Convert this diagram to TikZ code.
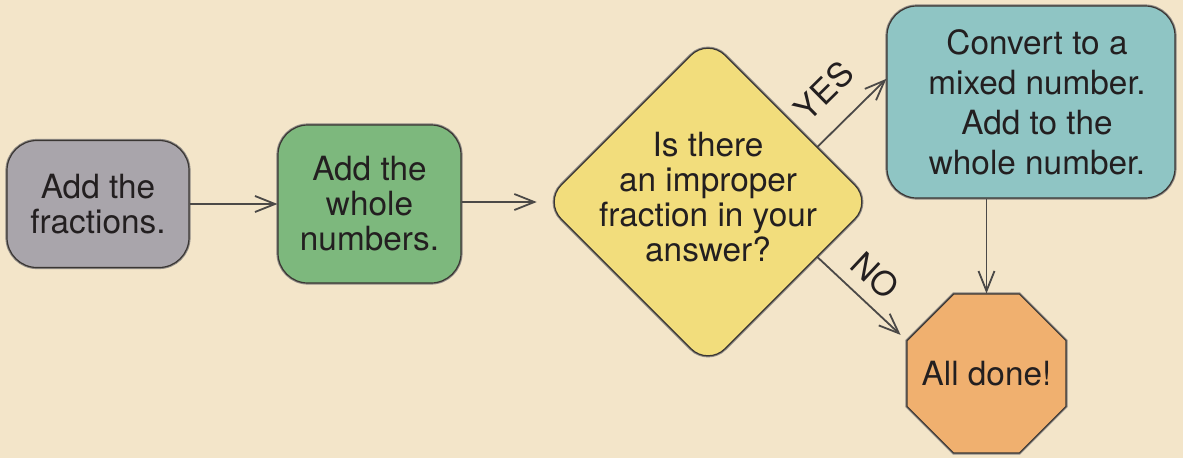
\documentclass[tikz,border=0pt]{standalone}
\usepackage{fontspec}
\setmainfont{TeX Gyre Heros}
\usetikzlibrary{shapes.geometric,arrows.meta,calc}
\definecolor{bg}{HTML}{F3E5C9}
\definecolor{greyfill}{HTML}{A9A5AB}
\definecolor{greenfill}{HTML}{7DB87D}
\definecolor{yellowfill}{HTML}{F2DD7C}
\definecolor{tealfill}{HTML}{8FC5C4}
\definecolor{orangefill}{HTML}{F0B06F}
\definecolor{edge}{HTML}{3A3633}
\definecolor{edgelight}{HTML}{8E8A85}
\definecolor{txt}{HTML}{231F20}
\definecolor{arrowc}{HTML}{4B4947}
\tikzset{
  outline/.style={draw=edge, line width=0.9pt, preaction={draw=edgelight, line width=2.4pt}},
  txtfont/.style={text=txt, font=\fontsize{25}{26.25}\selectfont},
  box/.style={outline, txtfont, rounded corners=22.5pt, align=center, inner sep=0pt},
  dia/.style={outline, shape=diamond, aspect=1, minimum width=246pt, minimum height=246pt, rounded corners=18pt, inner sep=0pt, fill=yellowfill},
  oct/.style={outline, shape=regular polygon, regular polygon sides=8, minimum size=129pt, inner sep=0pt, fill=orangefill},
  lbl/.style={txtfont, align=center, inner sep=0pt},
  arr/.style={draw=arrowc, line width=1.35pt, -{Straight Barb[length=15pt,width=12pt]}},
  edgelbl/.style={text=txt, font=\fontsize{25}{26}\selectfont, sloped}
}
\begin{document}
\begin{tikzpicture}[x=0.75pt,y=-0.75pt]
\fill[bg] (0,0) rectangle (1183,458);
\useasboundingbox (0,0) rectangle (1183,458);

\node[box, fill=greyfill, minimum width=136.5pt, minimum height=95.25pt] (b1) at (98,204) {Add the\\fractions.};
\node[box, fill=greenfill, minimum width=137.25pt, minimum height=118.5pt] (b2) at (369.5,204) {Add the\\whole\\numbers.};
\node[dia] (q) at (708,202) {};
\node[lbl] (qt) at (708,197) {Is there\\an improper\\fraction in your\\answer?};
\node[box, fill=tealfill, minimum width=216pt, minimum height=144pt] (t) at (1031,102) {};
\node[lbl, font=\fontsize{25}{30}\selectfont] (tt) at (1037,102) {Convert to a\\mixed number.\\Add to the\\whole number.};
\node[oct] (done) at (986.5,373.5) {};
\node[lbl] (donet) at (986.5,374) {All done!};

\draw[arr] (b1.east) -- (b2.west);
\draw[arr, shorten >=5pt] (b2.east |- q.west) -- (q.west);

\coordinate (ys) at ($(q.north)!0.665!(q.east)$);
\coordinate (ye) at ($(t.south west)!0.62!(t.north west)$);
\draw[arr] (ys) -- node[edgelbl, above=13pt, pos=0.45] {YES} (ye);

\coordinate (ns) at ($(q.east)!0.335!(q.south)$);
\draw[arr, shorten >=6pt] (ns) -- node[edgelbl, above=6pt, pos=0.45] {NO} (done.corner 3);

\draw[arr] (done.north |- t.south) -- (done.north);
\end{tikzpicture}
\end{document}
